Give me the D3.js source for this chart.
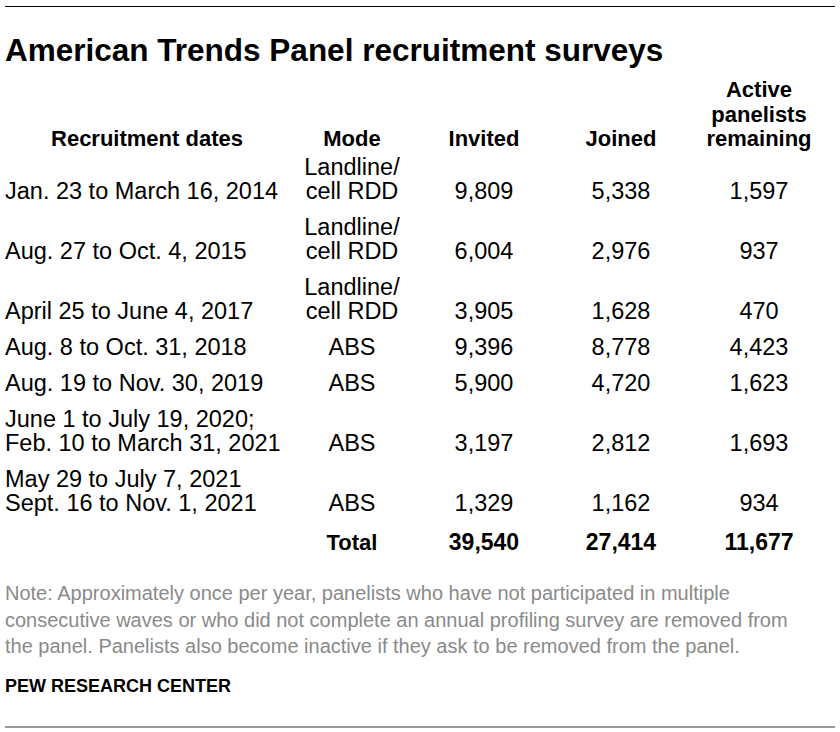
<!DOCTYPE html>
<html>
<head>
<meta charset="utf-8">
<script src="https://cdn.jsdelivr.net/npm/d3@7"></script>
<style>
body { margin: 0; background: #fff; }
svg { display: block; }
text { font-family: "Liberation Sans", Arial, sans-serif; fill: #000; }
.hdr { font-weight: bold; font-size: 22px; }
.cell { font-size: 23.5px; }
.note { font-size: 20px; fill: #8a8a8a; }
.src { font-weight: bold; font-size: 18px; }
</style>
</head>
<body>
<svg id="chart" width="840" height="732"></svg>
<script>
// table contents
var headers = [["Recruitment dates"], ["Mode"], ["Invited"], ["Joined"], ["Active", "panelists", "remaining"]];
var dates = [
	["Jan. 23 to March 16, 2014"],
	["Aug. 27 to Oct. 4, 2015"],
	["April 25 to June 4, 2017"],
	["Aug. 8 to Oct. 31, 2018"],
	["Aug. 19 to Nov. 30, 2019"],
	["June 1 to July 19, 2020;", "Feb. 10 to March 31, 2021"],
	["May 29 to July 7, 2021", "Sept. 16 to Nov. 1, 2021"]
];
var modes = [
	["Landline/", "cell RDD"],
	["Landline/", "cell RDD"],
	["Landline/", "cell RDD"],
	["ABS"], ["ABS"], ["ABS"], ["ABS"]
];
var invited = [9809, 6004, 3905, 9396, 5900, 3197, 1329];
var joined = [5338, 2976, 1628, 8778, 4720, 2812, 1162];
var active = [1597, 937, 470, 4423, 1623, 1693, 934];
var totalLabel = "Total";
var totals = [39540, 27414, 11677];
var noteLines = [
	"Note: Approximately once per year, panelists who have not participated in multiple",
	"consecutive waves or who did not complete an annual profiling survey are removed from",
	"the panel. Panelists also become inactive if they ask to be removed from the panel."
];
var source = "PEW RESEARCH CENTER";
var title = "American Trends Panel recruitment surveys";

var svg = d3.select("#chart");
var fmt = d3.format(",");
var W = 840;

var cols = ["dates", "mode", "invited", "joined", "active"];
var colX = d3.scaleOrdinal().domain(cols).range([147, 352, 484, 621, 759]);

// rules
svg.append("line").attr("x1", 5).attr("x2", W - 5).attr("y1", 6.5).attr("y2", 6.5)
	.attr("stroke", "#000").attr("stroke-width", 1.2);
svg.append("line").attr("x1", 5).attr("x2", W - 5).attr("y1", 727).attr("y2", 727)
	.attr("stroke", "#9a9a9a").attr("stroke-width", 2);

svg.append("text").attr("x", 5).attr("y", 61)
	.style("font-weight", "bold").style("font-size", "31.5px").text(title);

// header: bottom aligned
var lineH = 24.5;
var headerBase = 146;
headers.forEach(function(lines, i) {
	var t = svg.append("text").attr("class", "hdr").attr("text-anchor", "middle")
		.attr("x", colX(cols[i]));
	lines.forEach(function(l, j) {
		t.append("tspan").attr("x", colX(cols[i]))
			.attr("y", headerBase - (lines.length - 1 - j) * lineH).text(l);
	});
});

// row layout: each row's last line is the baseline for the numbers
var rowLine = 24, rowGap = 36;
var rows = dates.map(function(d, i) {
	return {dates: d, mode: modes[i], invited: invited[i], joined: joined[i], active: active[i],
		n: Math.max(d.length, modes[i].length)};
});
var y = 199 - rowLine * (rows[0].n - 1) - rowGap;
rows.forEach(function(r) {
	r.top = y + rowGap;
	r.base = r.top + (r.n - 1) * rowLine;
	y = r.base;
});

var g = svg.selectAll("g.row").data(rows).enter().append("g").attr("class", "row");

g.each(function(r) {
	var sel = d3.select(this);
	var t = sel.append("text").attr("class", "cell").attr("x", 5);
	r.dates.forEach(function(l, j) {
		t.append("tspan").attr("x", 5).attr("y", r.base - (r.dates.length - 1 - j) * rowLine).text(l);
	});
	var m = sel.append("text").attr("class", "cell").attr("text-anchor", "middle");
	r.mode.forEach(function(l, j) {
		m.append("tspan").attr("x", colX("mode")).attr("y", r.base - (r.mode.length - 1 - j) * rowLine).text(l);
	});
	["invited", "joined", "active"].forEach(function(k) {
		sel.append("text").attr("class", "cell").attr("text-anchor", "middle")
			.attr("x", colX(k)).attr("y", r.base).text(fmt(r[k]));
	});
});

// totals row
var totalY = y + 39;
svg.append("text").attr("class", "hdr").attr("text-anchor", "middle")
	.attr("x", colX("mode")).attr("y", totalY).text(totalLabel);
svg.selectAll("text.total").data(totals).enter().append("text")
	.attr("class", "hdr total").attr("text-anchor", "middle")
	.style("font-size", "23px")
	.attr("x", function(d, i) { return colX(cols[i + 2]); })
	.attr("y", totalY).text(function(d) { return fmt(d); });

// note + source
svg.selectAll("text.note").data(noteLines).enter().append("text")
	.attr("class", "note").attr("x", 5)
	.attr("y", function(d, i) { return 600 + i * 26.5; })
	.text(function(d) { return d; });
svg.append("text").attr("class", "src").attr("x", 5).attr("y", 692).text(source);
</script>
</body>
</html>
